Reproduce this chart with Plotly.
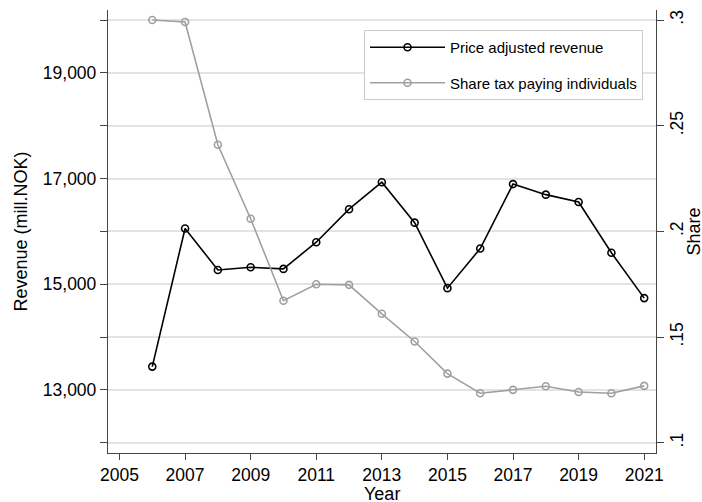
import plotly.graph_objects as go

years = list(range(2006, 2022))
revenue = [13440, 16055, 15270, 15320, 15290, 15795, 16420, 16930,
           16165, 14925, 15675, 16895, 16695, 16555, 15595, 14737]
share = [0.3000, 0.2991, 0.2410, 0.2060, 0.1672, 0.1750, 0.1747, 0.1610,
         0.1479, 0.1327, 0.1234, 0.1250, 0.1267, 0.1240, 0.1234, 0.1269]

x_ticks = list(range(2005, 2022, 2))
y1_ticks = list(range(12000, 20001, 1000))
y1_text = ["" if v % 2000 == 0 else f"{v:,}" for v in y1_ticks]
y2_ticks = [0.10, 0.15, 0.20, 0.25, 0.30]
y2_text = [".1", ".15", ".2", ".25", ".3"]

FONT = "Arial, Liberation Sans, sans-serif"
AX = "#444444"
GRAY = "#a0a0a0"

fig = go.Figure()
fig.add_trace(go.Scatter(
    x=years, y=revenue, name="Price adjusted revenue", mode="lines+markers",
    line=dict(color="black", width=1.6),
    marker=dict(symbol="circle-open", size=7, color="black", line=dict(width=1.6)),
    legendgroup="a", yaxis="y"))
fig.add_trace(go.Scatter(
    x=years, y=share, name="Share tax paying individuals", mode="lines+markers",
    line=dict(color=GRAY, width=1.6),
    marker=dict(symbol="circle-open", size=7, color=GRAY, line=dict(width=1.6)),
    legendgroup="b", yaxis="y2"))

W, H = 702, 502
L, R, T, B = 108, 46, 10, 49
PW, PH = W - L - R, H - T - B

def px(xf):  # pixel x -> paper
    return (xf - L) / PW

def py(yf):  # pixel y -> paper
    return (H - B - yf) / PH

fig.update_layout(
    width=W, height=H,
    margin=dict(l=L, r=R, t=T, b=B, autoexpand=False),
    plot_bgcolor="white", paper_bgcolor="white",
    font=dict(family=FONT, size=17.5, color="black"),
    showlegend=True,
    legend=dict(x=px(364), y=py(30), xanchor="left", yanchor="top",
                bordercolor="#cccccc", borderwidth=1, bgcolor="white",
                font=dict(size=15), itemwidth=75, tracegroupgap=13),
    xaxis=dict(range=[2004.65, 2021.36], tickvals=x_ticks, ticks="outside",
               ticklen=6, tickcolor=AX, showline=True, linecolor=AX, linewidth=1.3,
               showgrid=False, zeroline=False),
    yaxis=dict(range=[11805, 20190], tickvals=y1_ticks, ticktext=y1_text,
               ticks="outside", ticklen=7, tickcolor=AX, showline=True, linecolor=AX,
               linewidth=1.3, showgrid=True, gridcolor="#e3e3e3", gridwidth=1.5,
               zeroline=False),
    yaxis2=dict(range=[0.095125, 0.30475], tickvals=y2_ticks, ticktext=y2_text,
                overlaying="y", side="right", tickangle=-90, ticklabelstandoff=-2,
                ticks="outside", ticklen=7, tickcolor=AX, showline=True, linecolor=AX,
                linewidth=1.3, showgrid=False, zeroline=False),
    annotations=[
        dict(text="Year", xref="paper", yref="paper", x=0.5, y=py(494),
             xanchor="center", yanchor="middle", showarrow=False,
             font=dict(size=18)),
        dict(text="Revenue (mill.NOK)", xref="paper", yref="paper", x=px(20), y=0.5,
             xanchor="center", yanchor="middle", textangle=-90, showarrow=False,
             font=dict(size=18)),
        dict(text="Share", xref="paper", yref="paper", x=px(693), y=0.5,
             xanchor="center", yanchor="middle", textangle=-90, showarrow=False,
             font=dict(size=18)),
    ],
)

fig.write_html("out.html", config={"displayModeBar": False},
               post_script="document.body.style.margin='0px';")
